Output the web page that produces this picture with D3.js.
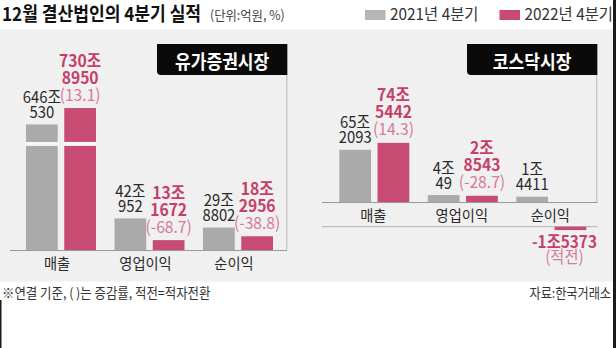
<!DOCTYPE html>
<html>
<head>
<meta charset="utf-8">
<script src="https://cdn.jsdelivr.net/npm/d3@7"></script>
<style>
  body { margin: 0; background: #fff; }
  svg { display: block; }
  text { font-family: "Noto Sans CJK KR", "Noto Sans", sans-serif; }
</style>
</head>
<body>
<svg id="chart" width="616" height="348"></svg>
<script>
// Q4 results of December fiscal-year companies, values in 억원 (100 million won)
const categories = ["매출", "영업이익", "순이익"];
const seriesNames = ["2021년 4분기", "2022년 4분기"];
const markets = ["유가증권시장", "코스닥시장"];

const kospi2021 = [6460530, 420952, 298802];
const kospi2022 = [7308950, 131672, 182956];
const kospiChange = [13.1, -68.7, -38.8];

const kosdaq2021 = [652093, 40049, 14411];
const kosdaq2022 = [745442, 28543, -15373];
const kosdaqChange = [14.3, -28.7, null];

const titleText = "12월 결산법인의 4분기 실적";
const unitText = "(단위:억원, %)";
const noteText = "※연결 기준, ( )는 증감률, 적전=적자전환";
const sourceText = "자료:한국거래소";
const turnedLossText = "(적전)";

const GRAY = "#aaaaaa", PINK = "#c84b74", PINK_TEXT = "#c43f6a", PINK_LIGHT = "#d77a9a";
const BG = "#f0f0f0";

const svg = d3.select("#chart");

// single-line text, baseline at (x, y), optional horizontal condensing
function label(g, x, y, str, o = {}) {
  return g.append("text")
    .attr("transform", `translate(${x},${y}) scale(${o.sx || 1},1)`)
    .attr("text-anchor", o.anchor || "start")
    .attr("font-size", o.size || 14)
    .attr("font-weight", o.weight || "normal")
    .attr("fill", o.fill || "#222")
    .text(str);
}

// multi-line text block; first baseline at y, lines separated by lh
function stack(g, x, y, lines, o = {}) {
  const t = g.append("text")
    .attr("transform", `translate(${x},${y}) scale(${o.sx || 1},1)`)
    .attr("text-anchor", "middle")
    .attr("font-size", o.size || 16.5);
  lines.forEach((ln, i) => {
    t.append("tspan").attr("x", 0).attr("dy", i === 0 ? 0 : o.lh)
      .attr("font-weight", ln.weight || "normal")
      .attr("fill", ln.fill || "#222")
      .text(ln.str);
  });
  return t;
}

// frame
svg.append("rect").attr("x", 0).attr("y", 0).attr("width", 616).attr("height", 348).attr("fill", "#fff");
svg.append("rect").attr("x", 0).attr("y", 29.5).attr("width", 613).attr("height", 252).attr("fill", BG);
svg.append("rect").attr("x", 613).attr("y", 0).attr("width", 3).attr("height", 348).attr("fill", "#1a1a1a");
svg.append("rect").attr("x", 0).attr("y", 300).attr("width", 1.5).attr("height", 48).attr("fill", "#1a1a1a");

// title + unit
label(svg, 2, 21, titleText, { size: 19, weight: "bold", sx: 0.9, fill: "#111" });
label(svg, 210, 20, unitText, { size: 13, sx: 0.95, fill: "#444" });

// legend
const legendX = [365, 499.5];
seriesNames.forEach((name, i) => {
  svg.append("rect").attr("x", legendX[i]).attr("y", 10).attr("width", 20.5).attr("height", 10)
    .attr("fill", i === 0 ? "#b5b5b5" : PINK);
  label(svg, legendX[i] + 25, 20, name, { size: 16, sx: 0.96, fill: "#333" });
});

// footer
label(svg, 2, 297.5, noteText, { size: 13.5, sx: 0.92, fill: "#333" });
label(svg, 611, 297.5, sourceText, { size: 13.5, sx: 0.9, fill: "#333", anchor: "end" });

// panel layout
const panels = [
  {
    name: markets[0], prev: kospi2021, curr: kospi2022, change: kospiChange,
    xRange: [26, 273], baseY: 250, axisX: [10, 287],
    yDomain: [0, 600000, 6000000, 10000000], yHeights: [0, 45, 116.7, 193.9],
    breakAt: 5200000, box: [157, 287.3], labelShift: -4
  },
  {
    name: markets[1], prev: kosdaq2021, curr: kosdaq2022, change: kosdaqChange,
    xRange: [339.3, 586.3], baseY: 202, axisX: [322, 597.5],
    yDomain: [0, 10000, 50000, 1000000], yHeights: [0, 5, 7.6, 78],
    negAxisY: 226.7, negAxisX: [322, 597.5], negDomain: [0, -20000], negHeights: [0, 4.4],
    box: [467, 597.3], labelShift: -1
  }
];

const keys = ["prev", "curr"];

panels.forEach(p => {
  const g = svg.append("g");
  const x0 = d3.scaleBand().domain(categories).range(p.xRange).paddingInner(0.209).paddingOuter(0);
  const x1 = d3.scaleBand().domain(keys).range([0, x0.bandwidth()]).paddingInner(0.17);
  const y = d3.scaleLinear().domain(p.yDomain).range(p.yHeights.map(h => p.baseY - h));

  // divider and title box
  g.append("line").attr("x1", p.box[1] - 0.5).attr("x2", p.box[1] - 0.5)
    .attr("y1", 44).attr("y2", p.baseY).attr("stroke", "#b8b8b8").attr("stroke-width", 1);
  const bx0 = p.box[0], bx1 = p.box[1], by0 = 44, by1 = 75, r = 4;
  g.append("path")
    .attr("d", `M${bx0},${by0}H${bx1}V${by1}H${bx0 + r}Q${bx0},${by1} ${bx0},${by1 - r}Z`)
    .attr("fill", "#0a0a0a");
  label(g, (bx0 + bx1) / 2, 69, p.name, { size: 19, weight: "bold", sx: 0.9, fill: "#fff", anchor: "middle" });

  // baseline
  g.append("line").attr("x1", p.axisX[0]).attr("x2", p.axisX[1])
    .attr("y1", p.baseY + 0.5).attr("y2", p.baseY + 0.5).attr("stroke", "#9a9a9a").attr("stroke-width", 1);

  let yNeg = null;
  if (p.negAxisY !== undefined) {
    yNeg = d3.scaleLinear().domain(p.negDomain).range(p.negHeights.map(h => p.negAxisY + h));
    g.append("line").attr("x1", p.negAxisX[0]).attr("x2", p.negAxisX[1])
      .attr("y1", p.negAxisY).attr("y2", p.negAxisY).attr("stroke", "#b0b0b0").attr("stroke-width", 1);
  }

  categories.forEach((cat, i) => {
    keys.forEach(k => {
      const v = p[k][i];
      const bx = x0(cat) + x1(k);
      const bw = x1.bandwidth();
      const cx = bx + bw / 2;
      const isCurr = k === "curr";
      const fill = isCurr ? PINK : GRAY;
      const abs = Math.abs(v);
      const jo = Math.floor(abs / 10000), rest = abs % 10000;

      if (v >= 0) {
        const top = y(v);
        g.append("rect").attr("x", bx).attr("y", top).attr("width", bw).attr("height", p.baseY - top).attr("fill", fill);
        if (p.breakAt !== undefined && v > p.breakAt) {
          g.append("rect").attr("x", bx - 1).attr("y", y(p.breakAt) - 2).attr("width", bw + 2).attr("height", 4).attr("fill", "#f6f6f6");
        }
        if (isCurr) {
          const last = top - 7.5;
          stack(g, cx, last - 34, [
            { str: `${jo}조`, weight: "bold", fill: PINK_TEXT },
            { str: `${rest}`, weight: "bold", fill: PINK_TEXT },
            { str: `(${p.change[i]})`, fill: PINK_LIGHT }
          ], { size: 16.5, sx: 0.95, lh: 17 });
        } else {
          const last = top - 6.5;
          stack(g, cx, last - 15, [
            { str: `${jo}조`, fill: "#2a2a2a" },
            { str: `${rest}`, fill: "#2a2a2a" }
          ], { size: 16.5, sx: 0.9, lh: 15 });
        }
      } else {
        const bottom = yNeg(v);
        g.append("rect").attr("x", bx).attr("y", p.negAxisY).attr("width", bw).attr("height", bottom - p.negAxisY).attr("fill", fill);
        stack(g, cx - 6, bottom + 17.5, [
          { str: `-${jo}조${rest}`, weight: "bold", fill: PINK_TEXT },
          { str: turnedLossText, fill: PINK_LIGHT }
        ], { size: 16.5, sx: 0.93, lh: 15.5 });
      }
    });

    // category name
    label(g, x0(cat) + x0.bandwidth() / 2 + p.labelShift, p.baseY + 18.5, cat, { size: 15, sx: 0.95, fill: "#2a2a2a", anchor: "middle" });
  });
});
</script>
</body>
</html>
